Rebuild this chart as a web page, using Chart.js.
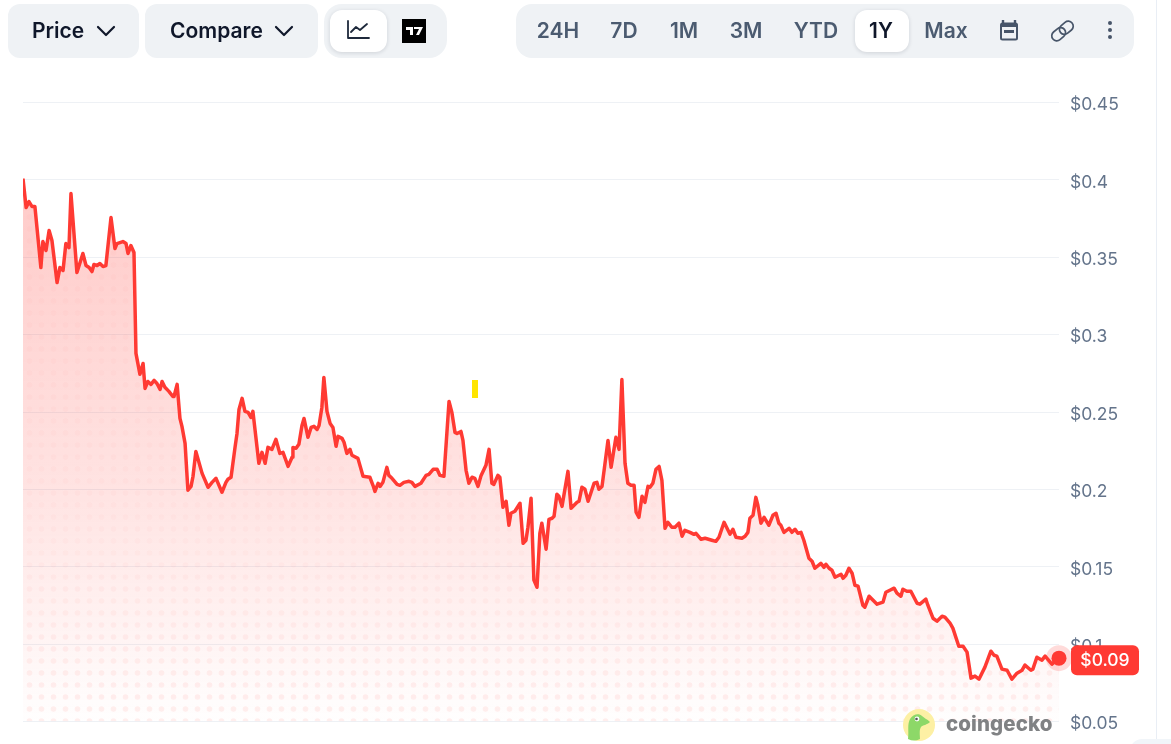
<!DOCTYPE html>
<html>
<head>
<meta charset="utf-8">
<title>Price chart</title>
<script src="https://cdn.jsdelivr.net/npm/chart.js@4/dist/chart.umd.min.js"></script>
<style>
    html, body { margin: 0; padding: 0; background: #fff; }
    body { width: 1171px; height: 744px; overflow: hidden; position: relative; font-family: Inter, sans-serif; }
    #myChart { position: absolute; left: 0; top: 0; }
    .box { position: absolute; top: 4px; height: 54px; background: #eff2f5; border-radius: 12px; }
    .pill { position: absolute; top: 10px; height: 42px; background: #fff; border-radius: 12px; box-shadow: 0 1px 4px rgba(15,23,42,.14); }
    .txt { position: absolute; top: 4px; line-height: 54px; font-size: 21px; font-weight: 600; color: #0f172a; white-space: nowrap; }
    .range { color: #4b5b70; transform: translateX(-50%); }
    .icon { position: absolute; }
    #mark { position: absolute; left: 472px; top: 380px; width: 6px; height: 18px; background: #ffe500; }
    #edge { position: absolute; left: 1156px; top: 0; width: 1px; height: 744px; background: #e9eef5; }
    #corner { position: absolute; left: 1130px; top: 739px; width: 60px; height: 20px; background: #f1f5f9; border-radius: 12px 0 0 0; }
    #brand { position: absolute; left: 946px; top: 709px; line-height: 30px; font-size: 20.5px; font-weight: 800; color: #808284; letter-spacing: .1px; }
</style>
</head>
<body>
<div id="edge"></div>
<div id="corner"></div>
<canvas id="myChart" width="1171" height="744"></canvas>
<div id="mark"></div>

<!-- 상단 버튼 -->
<div class="box" style="left:8px;width:131px"></div>
<div class="txt" style="left:32px">Price</div>
<svg class="icon" style="left:96px;top:24px" width="20" height="14" viewBox="0 0 20 14"><path d="M2 3l8 8 8-8" fill="none" stroke="#0f172a" stroke-width="2.2" stroke-linecap="round" stroke-linejoin="round"/></svg>
<div class="box" style="left:145px;width:173px"></div>
<div class="txt" style="left:170px">Compare</div>
<svg class="icon" style="left:274px;top:24px" width="20" height="14" viewBox="0 0 20 14"><path d="M2 3l8 8 8-8" fill="none" stroke="#0f172a" stroke-width="2.2" stroke-linecap="round" stroke-linejoin="round"/></svg>
<div class="box" style="left:324px;width:123px;border-radius:18px"></div>
<div class="pill" style="left:330px;width:57px"></div>
<svg class="icon" style="left:346px;top:19px" width="24" height="22" viewBox="0 0 24 22"><path d="M2 2v17h21M5 13l5-5 4 3 7-6" fill="none" stroke="#1e293b" stroke-width="1.8" stroke-linecap="round" stroke-linejoin="round"/></svg>
<svg class="icon" style="left:402px;top:19px" width="24" height="24" viewBox="0 0 24 24"><rect width="24" height="24" fill="#000"/><path d="M4 8h7v8H8v-5H4zM12 8h9l-4 8h-3l3-6h-5z" fill="#fff"/></svg>

<div class="box" style="left:516px;width:618px;border-radius:16px"></div>
<div class="pill" style="left:855px;width:54px"></div>
<div class="txt range" style="left:558px">24H</div>
<div class="txt range" style="left:624px">7D</div>
<div class="txt range" style="left:684px">1M</div>
<div class="txt range" style="left:746px">3M</div>
<div class="txt range" style="left:816px">YTD</div>
<div class="txt range" style="left:881px;color:#0f172a">1Y</div>
<div class="txt range" style="left:946px">Max</div>
<svg class="icon" style="left:998px;top:19px" width="22" height="23" viewBox="0 0 22 23"><path d="M5 1v4M17 1v4" stroke="#475569" stroke-width="2.4"/><rect x="2" y="3.500" width="18" height="18" rx="2.500" fill="#475569"/><rect x="4" y="8" width="14" height="11.500" fill="#eff2f5"/><rect x="6" y="11" width="10" height="3" fill="#475569"/></svg>
<svg class="icon" style="left:1049px;top:19px" width="27" height="24" viewBox="0 0 27 24"><g fill="none" stroke="#475569" stroke-width="1.700" transform="rotate(-40 13.500 12)"><rect x="1" y="7" width="15" height="10" rx="5"/><rect x="11" y="7" width="15" height="10" rx="5"/></g></svg>
<svg class="icon" style="left:1105px;top:20px" width="10" height="20" viewBox="0 0 10 20"><circle cx="5" cy="3" r="2" fill="#475569"/><circle cx="5" cy="10" r="2" fill="#475569"/><circle cx="5" cy="17" r="2" fill="#475569"/></svg>

<!-- 로고 -->
<svg class="icon" style="left:902px;top:708px" width="34" height="34" viewBox="0 0 34 34"><circle cx="17" cy="17" r="16" fill="#fdf0a4"/><path d="M6 31c1-8-1-14 2-20 3-5 9-6 12-3 2 2 5 3 8 6-3 3-7 3-9 5-2 3-1 8-1 12-4 2-8 2-12 0z" fill="#8dd868"/><circle cx="15" cy="11" r="2.400" fill="#fff"/><circle cx="14.500" cy="11" r="1.300" fill="#555"/></svg>
<div id="brand">coingecko</div>

<script>
// 차트 데이터
var days = [0, 1.1, 2.1, 3.2, 4.2, 6.3, 7, 8.1, 9.2, 10.2, 12, 13, 14.1, 15.1, 16.2, 16.9, 19, 21.1, 22.2, 23.3, 24.3, 25, 26.1, 27.1, 28.2, 29.2, 31, 32.4, 33.1, 35.2, 36.3, 37, 38, 39.1, 39.8, 41.2, 42.3, 43, 44, 45.1, 46.2, 47.2, 48.3, 49, 50, 51.4, 52.8, 53.2, 54.3, 55.3, 56, 57.1, 58.1, 59.2, 59.9, 60.9, 63.1, 65.2, 66.6, 68, 70.1, 71.5, 72.2, 73.3, 74.7, 75.4, 76.1, 77.2, 78.2, 79.3, 80.3, 81, 83.1, 84.2, 85.3, 86.3, 87.7, 89.1, 90.5, 91.6, 93.4, 94.8, 95.1, 96.2, 97.2, 98.3, 99, 100.4, 101.5, 102.5, 103.6, 104.3, 105.3, 106, 107.1, 108.2, 109.2, 110.3, 111, 112.4, 113.1, 114.1, 115.2, 115.9, 118, 119.8, 122.2, 123.3, 124, 125.1, 125.8, 126.8, 128.2, 128.9, 130, 131.8, 132.8, 134.2, 136, 137, 138.1, 140.2, 142, 143, 144.5, 145.9, 146.9, 148.3, 150.1, 151.1, 152.2, 152.9, 154.3, 155, 156.1, 157.1, 158.2, 159.2, 160.3, 161.4, 163.1, 164.2, 165.2, 165.9, 167.3, 168, 169.1, 170.2, 171.2, 171.9, 173.3, 175.1, 176.2, 177.2, 177.9, 179, 180, 181.1, 182.1, 182.8, 184.3, 185.3, 186.4, 187.1, 188.1, 188.8, 189.9, 192, 193.1, 195.2, 195.9, 196.9, 198, 199.1, 201.2, 202.2, 202.9, 204, 206.1, 207.2, 208.9, 210, 211, 212.1, 213.1, 214.2, 215.3, 216, 217, 218.1, 219.1, 220.2, 220.9, 221.9, 223, 224.1, 225.1, 226.2, 227.2, 228.6, 229.7, 231.1, 232.2, 233.2, 235, 236.4, 237.1, 238.9, 240.3, 242.7, 244.1, 245.2, 247, 249.1, 250.1, 251.2, 253.3, 254.4, 255.4, 256.1, 257.2, 258.2, 258.9, 260, 261.1, 262.8, 264.2, 265.3, 266.3, 267, 268.1, 269.9, 270.9, 272, 273, 274.1, 275.1, 276.9, 278, 279, 281.1, 282.2, 282.9, 284, 285, 286.1, 288.2, 288.9, 289.9, 291, 292.1, 293.1, 294.2, 295.9, 296.6, 298.1, 299.5, 300.9, 303, 304, 305.4, 306.9, 307.9, 309.3, 310, 311.4, 312.8, 315, 316, 318.1, 318.8, 320.6, 322, 323.8, 324.8, 326.6, 327.6, 329.7, 331.2, 332.6, 334, 335.4, 336.8, 338.9, 341, 342.1, 343.1, 344.9, 346.7, 348.4, 350.2, 352, 353, 355.1, 355.8, 357.2, 359, 360.1, 362.5, 365];
var prices = [.4009, .3822, .386, .3828, .3828, .3434, .3602, .3544, .3673, .3609, .3337, .3434, .3415, .3589, .3563, .3912, .3402, .3525, .3447, .3434, .3408, .3454, .3447, .346, .3441, .3447, .3757, .3557, .3589, .3602, .3589, .3525, .3576, .3531, .2879, .2744, .2814, .2653, .2698, .2679, .2705, .2685, .2647, .2698, .266, .2634, .2601, .2601, .2679, .2459, .2408, .2298, .1995, .202, .2085, .2246, .2104, .2014, .2046, .2072, .1982, .2046, .2066, .2079, .2272, .2362, .2517, .2589, .2505, .2498, .2466, .2505, .2169, .224, .2169, .2272, .2259, .2324, .2233, .224, .2149, .2208, .2272, .2266, .2292, .2414, .2459, .2337, .2401, .2408, .2388, .2414, .253, .2724, .2505, .2427, .2401, .2279, .2343, .233, .2305, .2233, .2259, .2221, .2201, .2085, .2079, .2027, .1988, .204, .202, .2046, .2143, .2091, .2072, .2033, .2027, .2046, .2053, .2046, .202, .204, .2091, .2098, .213, .213, .2091, .2085, .2569, .2498, .2369, .2362, .2375, .2317, .2124, .204, .2079, .2072, .202, .2091, .2156, .2259, .204, .2033, .2091, .2079, .1885, .1924, .1769, .1846, .1859, .1911, .1652, .1672, .1756, .1943, .1414, .1368, .1717, .1782, .1614, .1807, .1814, .1827, .1969, .1956, .1891, .2117, .1878, .1917, .1924, .2014, .2001, .1924, .204, .2046, .2001, .202, .2317, .2143, .2337, .2259, .2711, .2169, .204, .2027, .2027, .1853, .182, .1956, .1917, .202, .2014, .204, .213, .2149, .2059, .1749, .1788, .1756, .1756, .1782, .1698, .1736, .1723, .171, .1717, .1678, .1685, .1672, .1665, .1691, .1788, .1711, .1743, .1691, .1685, .1698, .1723, .1814, .1833, .1949, .1898, .1782, .182, .1769, .1833, .1846, .1782, .1769, .1723, .1749, .1723, .1743, .1717, .1723, .1672, .1556, .1536, .1491, .1523, .1497, .1517, .1491, .1478, .1433, .1452, .1426, .1446, .1491, .1459, .1381, .1375, .1252, .1239, .131, .1284, .1259, .1272, .1336, .1349, .1362, .133, .131, .1355, .1342, .1342, .1265, .1259, .1291, .1252, .1168, .1149, .1181, .1175, .1136, .1104, .0987, .0987, .0949, .0781, .0794, .0774, .0852, .0955, .0929, .0923, .0839, .0832, .0774, .0813, .0832, .0865, .0832, .0839, .0916, .0897, .0923, .0871, .091];
var yTicks = [0.05, 0.1, 0.15, 0.2, 0.25, 0.3, 0.35, 0.4, 0.45];
var yTickLabels = ['$0.05', '$0.1', '$0.15', '$0.2', '$0.25', '$0.3', '$0.35', '$0.4', '$0.45'];
var lastLabel = '$0.09';

var points = days.map(function(d, i) { return { x: d, y: prices[i] }; });
var lastPoint = [points[points.length - 1]];

var ctx = document.getElementById('myChart').getContext('2d');

// 영역 그라데이션
var areaFill = ctx.createLinearGradient(0, 102, 0, 722);
areaFill.addColorStop(0, 'rgba(255,58,51,0.30)');
areaFill.addColorStop(0.64, 'rgba(255,58,51,0.137)');
areaFill.addColorStop(0.88, 'rgba(255,58,51,0.05)');
areaFill.addColorStop(1, 'rgba(255,58,51,0.005)');

// 점 무늬 (위쪽은 흐리게)
var tile = document.createElement('canvas');
tile.width = 12;
tile.height = 744;
var t = tile.getContext('2d');
for (var cy = 1; cy < 744; cy += 12) {
    t.fillStyle = 'rgba(255,58,51,' + (cy < 550 ? 0.025 : 0.025 + 0.05 * (cy - 550) / 150) + ')';
    t.beginPath();
    t.arc(5.5, cy, 2.8, 0, Math.PI * 2);
    t.fill();
}
var dotFill = ctx.createPattern(tile, 'repeat');

// 현재가 라벨
var badgePlugin = {
    id: 'badge',
    afterDatasetsDraw: function(chart) {
        var c = chart.ctx;
        var y = chart.scales.y.getPixelForValue(lastPoint[0].y) + 2;
        var left = chart.chartArea.right + 12;
        c.save();
        c.fillStyle = '#ff3a33';
        c.beginPath();
        c.roundRect(left, y - 15, 68, 30, 6);
        c.fill();
        c.fillStyle = '#fff';
        c.font = '500 17.5px Inter';
        c.textAlign = 'center';
        c.textBaseline = 'middle';
        c.fillText(lastLabel, left + 34, y + 1);
        c.restore();
    }
};

new Chart(ctx, {
    type: 'line',
    data: {
        datasets: [{
            data: points,
            borderColor: '#ff3a33',
            borderWidth: 3.5,
            backgroundColor: areaFill,
            fill: 'start',
            pointRadius: 0,
            tension: 0,
            borderJoinStyle: 'round'
        }, {
            data: points,
            borderWidth: 0,
            borderColor: 'transparent',
            backgroundColor: dotFill,
            fill: 'start',
            pointRadius: 0,
            tension: 0
        }, {
            data: lastPoint,
            pointRadius: 7.5,
            pointBackgroundColor: '#ff3a33',
            pointBorderWidth: 0,
            showLine: false,
            clip: false
        }, {
            data: lastPoint,
            pointRadius: 13,
            pointBackgroundColor: 'rgba(255,58,51,0.18)',
            pointBorderWidth: 0,
            showLine: false,
            clip: false
        }]
    },
    options: {
        responsive: false,
        animation: false,
        devicePixelRatio: 1,
        layout: { padding: { left: 23, top: 102.6, bottom: 22.4, right: 0 } },
        plugins: { legend: { display: false }, tooltip: { enabled: false } },
        scales: {
            x: { type: 'linear', display: false, min: 0, max: 365 },
            y: {
                position: 'right',
                min: 0.05,
                max: 0.45,
                afterBuildTicks: function(axis) {
                    axis.ticks = yTicks.map(function(v) { return { value: v }; });
                },
                afterFit: function(axis) { axis.width = 112; },
                grid: { color: '#eef1f5', lineWidth: 1, drawTicks: false },
                border: { display: false },
                ticks: {
                    padding: 11,
                    labelOffset: 2.5,
                    color: '#64748b',
                    font: { family: 'Inter', size: 17.5 },
                    callback: function(v) { return yTickLabels[yTicks.indexOf(v)]; }
                }
            }
        }
    },
    plugins: [badgePlugin]
});
</script>
</body>
</html>
